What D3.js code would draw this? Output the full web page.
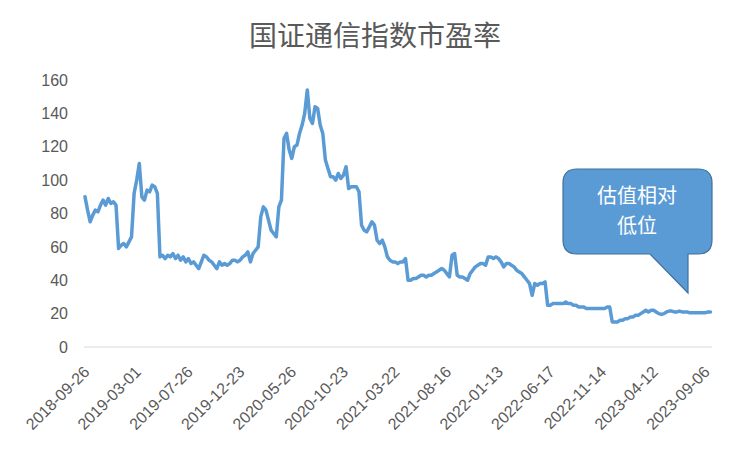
<!DOCTYPE html>
<html><head><meta charset="utf-8">
<script src="https://cdn.jsdelivr.net/npm/d3@7"></script>
<style>body{margin:0;background:#fff}svg{display:block}</style>
</head><body>
<script>
const title = "国证通信指数市盈率";
const tickLabels = ["2018-09-26","2019-03-01","2019-07-26","2019-12-23","2020-05-26","2020-10-23","2021-03-22","2021-08-16","2022-01-13","2022-06-17","2022-11-14","2023-04-12","2023-09-06"];
const tickEvery = 20;
const yTicks = [0,20,40,60,80,100,120,140,160];
const values = [
90,82,75,79,82,81,85,88,85,89,86,87,85,
59,61,62,60,63,66,
92,100,110,90,88,94,93,97,96,92,
54,55,53,55,54,56,53,55,52,54,51,53,50,51,49,47,51,55,54,52,51,49,47,51,49,50,49,50,52,52,51,52,54,55,57,51,56,58,60,
78,84,82,76,70,68,66,84,88,
125,128,118,113,120,121,128,133,140,154,137,134,144,143,133,128,112,107,102,102,100,104,101,103,
108,95,96,96,96,93,73,70,69,72,75,73,64,62,64,60,54,52,51,51,50,51,51,53,
40,40,41,41,42,43,43,42,43,43,44,45,46,47,46,44,42,
55,56,43,42,42,41,40,44,46,48,49,50,50,49,54,54,53,54,53,51,48,
50,50,49,48,46,45,44,42,40,38,31,38,37,38,38,39,
25,25,26,26,26,26,26,27,26,26,25,25,24,24,24,23,23,23,23,23,23,23,23,24,24,
15,15,15,16,16,17,17,18,18,19,19,20,21,22,21,22,22,21,20,19.5,20,21,21.5,21.5,21,21,21.5,21,21,21,20.5,20.5,20.5,20.5,20.5,20.5,20.5,21,21
];
const calloutLines = ["估值相对","低位"];

const W = 750, H = 451;
const svg = d3.select("body").append("svg").attr("width", W).attr("height", H);
const x = d3.scaleLinear().domain([0, values.length - 1]).range([85, 710.5]);
const y = d3.scaleLinear().domain([0, 160]).range([347, 80]);
const txt = "#595959";
const font = "'Liberation Sans', Arial, sans-serif";

// title
svg.append("text").attr("x", 375).attr("y", 36).attr("dy", "0.35em")
  .attr("text-anchor", "middle").attr("fill", txt)
  .style("font-family", "'Noto Sans CJK SC', sans-serif").style("font-size", "28px")
  .text(title);

// y axis
const ya = svg.append("g").attr("transform", "translate(70,0)")
  .call(d3.axisLeft(y).tickValues(yTicks).tickSize(0).tickPadding(2));
ya.select(".domain").remove();
ya.selectAll("text").attr("fill", txt).style("font-family", font).style("font-size", "16px");

// x axis baseline
svg.append("line").attr("x1", x.range()[0] - 1).attr("x2", x.range()[1] + 1.5)
  .attr("y1", y(0)).attr("y2", y(0)).attr("stroke", "#d9d9d9").attr("stroke-width", 1);

// x axis labels
const xa = svg.append("g").attr("transform", `translate(0,${y(0)})`)
  .call(d3.axisBottom(x).tickValues(tickLabels.map((d, i) => i * tickEvery))
    .tickFormat((d, i) => tickLabels[i]).tickSize(0));
xa.select(".domain").remove();
xa.selectAll("text")
  .attr("fill", txt).style("font-family", font).style("font-size", "16px")
  .attr("text-anchor", "end").attr("y", 0).attr("dy", "0.35em")
  .attr("transform", "translate(1,22) rotate(-45)");

// line
svg.append("path").datum(values)
  .attr("d", d3.line().x((d, i) => x(i)).y(d => y(d)))
  .attr("fill", "none").attr("stroke", "#5b9bd5").attr("stroke-width", 3.5)
  .attr("stroke-linejoin", "round").attr("stroke-linecap", "round");

// callout
const bx0 = 563, bx1 = 712, by0 = 169, by1 = 254, r = 14;
const tailL = 650, tailR = 688, tipY = 293;
const p = `M${bx0 + r},${by0} H${bx1 - r} Q${bx1},${by0} ${bx1},${by0 + r} V${by1 - r} Q${bx1},${by1} ${bx1 - r},${by1} H${tailR} V${tipY} L${tailL},${by1} H${bx0 + r} Q${bx0},${by1} ${bx0},${by1 - r} V${by0 + r} Q${bx0},${by0} ${bx0 + r},${by0} Z`;
svg.append("path").attr("d", p).attr("fill", "#5b9bd5").attr("stroke", "#41719c").attr("stroke-width", 1.2);
svg.append("g").selectAll("text").data(calloutLines).join("text")
  .attr("text-anchor", "middle").attr("fill", "#ffffff")
  .style("font-family", "'Noto Sans CJK SC', sans-serif").style("font-size", "20px")
  .attr("x", 637).attr("y", (d, i) => 196 + i * 29.5).attr("dy", "0.35em")
  .text(d => d);
</script>
</body></html>
